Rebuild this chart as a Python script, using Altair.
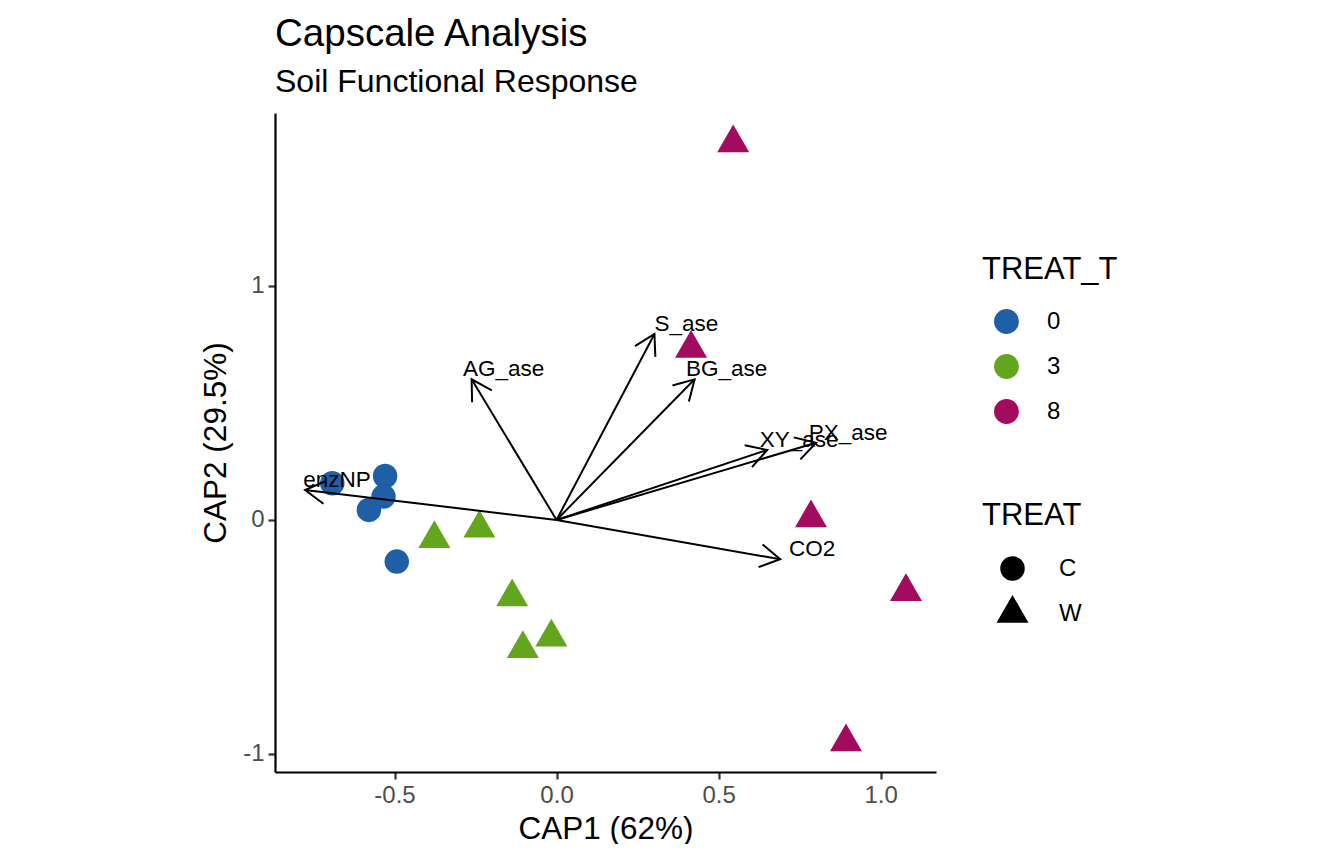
import math
import altair as alt
import pandas as pd

# ---------------- data ----------------
site_cap1 = [-0.692, -0.529, -0.534, -0.579, -0.493,
             -0.377, -0.238, -0.137, -0.016, -0.104,
             0.545, 0.415, 0.785, 1.078, 0.893]
site_cap2 = [0.157, 0.188, 0.100, 0.043, -0.178,
             -0.080, -0.036, -0.329, -0.501, -0.550,
             1.611, 0.733, 0.008, -0.307, -0.949]
site_treat_t = ["0", "0", "0", "0", "0",
                "3", "3", "3", "3", "3",
                "8", "8", "8", "8", "8"]
site_treat = ["C", "C", "C", "C", "C",
              "W", "W", "W", "W", "W",
              "W", "W", "W", "W", "W"]

var_names = ["enzNP", "AG_ase", "S_ase", "BG_ase", "XY_ase", "PX_ase", "CO2"]
var_cap1 = [-0.776, -0.262, 0.302, 0.426, 0.650, 0.801, 0.690]
var_cap2 = [0.128, 0.601, 0.795, 0.601, 0.299, 0.330, -0.168]

treat_t_levels = ["0", "3", "8"]
treat_t_colors = ["#1E5FA6", "#63A61E", "#A30B5E"]
treat_levels = ["C", "W"]

x_ticks = [-0.5, 0.0, 0.5, 1.0]
y_ticks = [-1, 0, 1]

# ---------------- layout ----------------
W, H = 661, 659
FONT = "Liberation Sans"

xs_all = site_cap1 + var_cap1 + [0.0]
ys_all = site_cap2 + var_cap2 + [0.0]
xr = max(xs_all) - min(xs_all)
yr = max(ys_all) - min(ys_all)
x_dom = [min(xs_all) - 0.05 * xr, max(xs_all) + 0.05 * xr]
y_dom = [min(ys_all) - 0.05 * yr, max(ys_all) + 0.05 * yr]
px_x = W / (x_dom[1] - x_dom[0])
px_y = H / (y_dom[1] - y_dom[0])

sites = pd.DataFrame({
    "CAP1": site_cap1, "CAP2": site_cap2,
    "TREAT_T": site_treat_t, "TREAT": site_treat,
})

arrows = pd.DataFrame({
    "name": var_names,
    "CAP1": var_cap1,
    "CAP2": var_cap2,
    "x0": [0.0] * len(var_names),
    "y0": [0.0] * len(var_names),
})
arrows["ang"] = [
    math.degrees(math.atan2(-b * px_y, a * px_x)) % 360
    for a, b in zip(var_cap1, var_cap2)
]

tri_path = "M0,-1L0.866,0.5L-0.866,0.5Z"
head_path = "M-0.866,-0.5L0,0L-0.866,0.5"

xscale = alt.Scale(domain=x_dom, nice=False, zero=False)
yscale = alt.Scale(domain=y_dom, nice=False, zero=False)

xaxis = alt.Axis(values=x_ticks, format=".1f", title="CAP1 (62%)",
                 labelExpr="replace(datum.label, '\u2212', '-')")
yaxis = alt.Axis(values=y_ticks, format="d", title="CAP2 (29.5%)",
                 labelExpr="replace(datum.label, '\u2212', '-')")

shape_legend = alt.Legend(
    title="TREAT", orient="none", legendX=707, legendY=388,
    symbolFillColor="black", symbolStrokeColor="black",
    symbolStrokeWidth=0, rowPadding=14, labelOffset=28,
    symbolOffset=12, titlePadding=24,
)

points = alt.Chart(sites).mark_point(filled=True, opacity=1, strokeWidth=0).encode(
    x=alt.X("CAP1:Q", scale=xscale, axis=xaxis),
    y=alt.Y("CAP2:Q", scale=yscale, axis=yaxis),
    color=alt.Color(
        "TREAT_T:N",
        scale=alt.Scale(domain=treat_t_levels, range=treat_t_colors),
        legend=alt.Legend(
            title="TREAT_T", orient="none", legendX=707, legendY=142,
            symbolType="circle", symbolSize=620, symbolStrokeWidth=0,
            rowPadding=20, labelOffset=28, symbolOffset=12, titlePadding=23,
        ),
    ),
    shape=alt.Shape(
        "TREAT:N",
        scale=alt.Scale(domain=treat_levels, range=["circle", tri_path]),
        legend=shape_legend,
    ),
    size=alt.Size(
        "TREAT:N",
        scale=alt.Scale(domain=treat_levels, range=[600, 1365]),
        legend=shape_legend,
    ),
)

shafts = alt.Chart(arrows).mark_rule(color="black", strokeWidth=2).encode(
    x=alt.X("x0:Q", scale=xscale),
    y=alt.Y("y0:Q", scale=yscale),
    x2="CAP1:Q",
    y2="CAP2:Q",
)

heads = alt.Chart(arrows).mark_point(
    shape=head_path, filled=False, color="black", strokeWidth=2,
    size=2116, opacity=1,
).encode(
    x=alt.X("CAP1:Q", scale=xscale),
    y=alt.Y("CAP2:Q", scale=yscale),
    angle=alt.Angle("ang:Q", scale=None),
)

labels = alt.Chart(arrows).mark_text(
    align="center", baseline="middle", dx=32, dy=-10,
    font=FONT, fontSize=22.5, color="black",
).encode(
    x=alt.X("CAP1:Q", scale=xscale),
    y=alt.Y("CAP2:Q", scale=yscale),
    text="name:N",
)

chart = alt.layer(points, shafts, heads, labels).properties(
    width=W, height=H,
    title=alt.TitleParams(
        text="Capscale Analysis", subtitle="Soil Functional Response",
        anchor="start", frame="group", font=FONT, subtitleFont=FONT,
        fontSize=38.5, subtitleFontSize=32, fontWeight="normal",
        color="black", subtitleColor="black", offset=14, subtitlePadding=13,
    ),
    autosize=alt.AutoSizeParams(type="none"),
    padding={"left": 267, "top": 105, "right": 390, "bottom": 72},
).configure_view(stroke=None).configure_axis(
    grid=False, domainColor="black", domainWidth=2.2, tickColor="#333333",
    tickWidth=2.2, tickSize=7, labelFont=FONT, labelFontSize=24,
    labelColor="#4D4D4D", titleFont=FONT, titleFontSize=31.5,
    titleColor="black", titleFontWeight="normal", labelPadding=4,
).configure_axisX(titlePadding=6).configure_axisY(titlePadding=10).configure_legend(
    titleFont=FONT, titleFontSize=31, titleFontWeight="normal",
    titleColor="black", labelFont=FONT, labelFontSize=24, labelColor="black",
)

chart.save("out.html", embed_options={"renderer": "svg", "actions": False})
